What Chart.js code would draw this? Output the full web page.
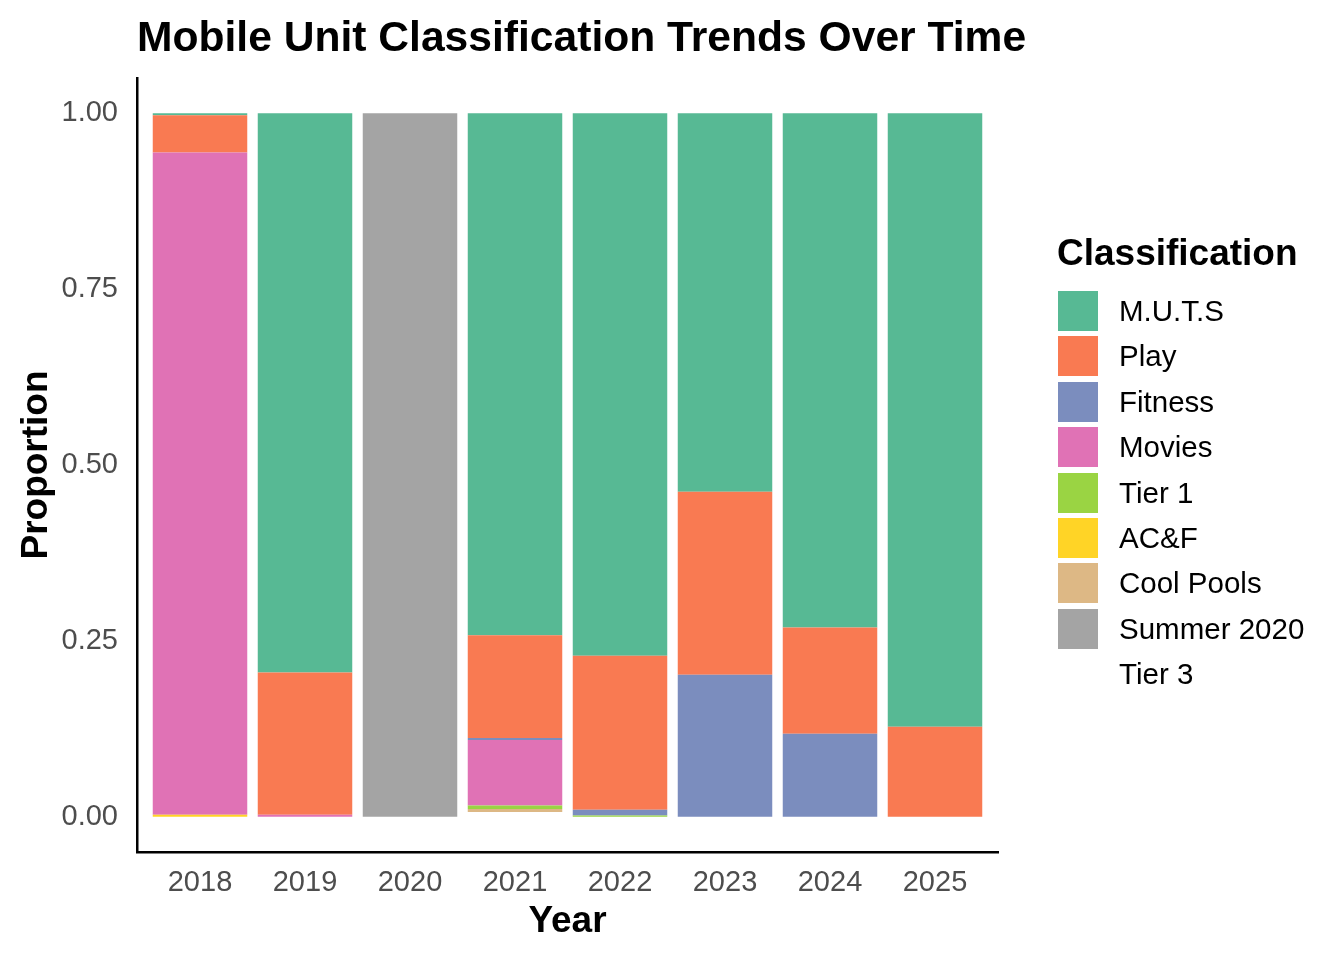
<!DOCTYPE html>
<html>
<head>
<meta charset="utf-8">
<script src="https://cdn.jsdelivr.net/npm/chart.js@4"></script>
<style>
	body { margin: 0; background: #fff; }
	#wrap { position: relative; width: 1344px; height: 960px; font-family: "Liberation Sans", Arial, sans-serif; }
	#title { position: absolute; left: 137px; top: 14.5px; font-weight: bold; font-size: 42.6px; line-height: 1; color: #000; white-space: nowrap; }
	#legend { position: absolute; left: 1057px; top: 231px; }
	#legend .ttl { font-weight: bold; font-size: 37px; color: #000; margin-bottom: 16px; line-height: 44px; }
	#legend .row { display: flex; align-items: center; height: 40px; margin-bottom: 5.4px; }
	#legend .sw { width: 40px; height: 40px; margin-left: 1px; margin-right: 21px; }
	#legend .lbl { font-size: 29.5px; color: #000; }
</style>
</head>
<body>
<div id="wrap">
	<canvas id="chart" width="1344" height="960"></canvas>
	<div id="title">Mobile Unit Classification Trends Over Time</div>
	<div id="legend"></div>
</div>
<script>
var years = ['2018', '2019', '2020', '2021', '2022', '2023', '2024', '2025']
var yTicks = [0, 0.25, 0.5, 0.75, 1]

// classification shares per year (2018..2025)
var muts = [0.003, 0.795, 0, 0.742, 0.771, 0.538, 0.731, 0.872]
var play = [0.053, 0.202, 0, 0.146, 0.219, 0.260, 0.151, 0.128]
var fitness = [0, 0, 0, 0.003, 0.008, 0.202, 0.118, 0]
var movies = [0.941, 0.003, 0, 0.093, 0, 0, 0, 0]
var tier1 = [0, 0, 0, 0.005, 0.002, 0, 0, 0]
var acf = [0.003, 0, 0, 0, 0, 0, 0, 0]
var coolPools = [0, 0, 0, 0.004, 0, 0, 0, 0]
var summer2020 = [0, 0, 1, 0, 0, 0, 0, 0]
var tier3 = [0, 0, 0, 0.007, 0, 0, 0, 0]

var classes = ['M.U.T.S', 'Play', 'Fitness', 'Movies', 'Tier 1', 'AC&F', 'Cool Pools', 'Summer 2020', 'Tier 3']
var series = [muts, play, fitness, movies, tier1, acf, coolPools, summer2020, tier3]
var colors = ['#57b994', '#f97a52', '#7b8dbe', '#e072b5', '#9ad443', '#ffd426', '#ddb885', '#a4a4a4', '#ffffff']

function toPoints(vals) {
	return vals.map(function (v, i) { return { x: i + 1, y: v } })
}

// bottom of the stack first, so M.U.T.S ends up on top
var datasets = []
for (var i = classes.length - 1; i >= 0; i--) {
	datasets.push({
		label: classes[i],
		data: toPoints(series[i]),
		backgroundColor: colors[i],
		borderWidth: 0,
		categoryPercentage: 1,
		barPercentage: 0.9
	})
}

Chart.defaults.font.family = '"Liberation Sans", Arial, sans-serif'

var ctx = document.getElementById('chart').getContext('2d')
var myChart = new Chart(ctx, {
	type: 'bar',
	data: { datasets: datasets },
	options: {
		responsive: false,
		animation: false,
		devicePixelRatio: 1,
		layout: { padding: { left: 11, right: 346, top: 78, bottom: 14 } },
		plugins: {
			legend: { display: false },
			tooltip: { enabled: false },
			title: { display: false }
		},
		scales: {
			x: {
				type: 'linear',
				stacked: true,
				min: 0.4,
				max: 8.6,
				offset: false,
				afterBuildTicks: function (axis) {
					axis.ticks = years.map(function (y, i) { return { value: i + 1 } })
				},
				afterFit: function (axis) { axis.height = 94 },
				ticks: {
					color: '#4d4d4d',
					font: { size: 29 },
					padding: 14,
					autoSkip: false,
					maxRotation: 0,
					callback: function (v) { return years[v - 1] }
				},
				grid: { display: false, drawTicks: false },
				border: { display: true, color: '#000', width: 2.5 },
				title: {
					display: true,
					text: 'Year',
					color: '#000',
					font: { size: 37, weight: 'bold' },
					padding: { top: 0, bottom: 2 }
				}
			},
			y: {
				stacked: true,
				min: -0.05,
				max: 1.05,
				afterBuildTicks: function (axis) {
					axis.ticks = yTicks.map(function (v) { return { value: v } })
				},
				afterFit: function (axis) { axis.width = 126 },
				ticks: {
					color: '#4d4d4d',
					font: { size: 29 },
					padding: 19,
					callback: function (v) { return v.toFixed(2) }
				},
				grid: { display: false, drawTicks: false },
				border: { display: true, color: '#000', width: 2.5 },
				title: {
					display: true,
					text: 'Proportion',
					color: '#000',
					font: { size: 37, weight: 'bold' },
					padding: { top: 4, bottom: 4 }
				}
			}
		}
	}
})

// legend in ggplot order, built from the chart's datasets
var legend = document.getElementById('legend')
var html = '<div class="ttl">Classification</div>'
myChart.data.datasets.slice().reverse().forEach(function (ds) {
	html += '<div class="row"><div class="sw" style="background:' + ds.backgroundColor + '"></div>' +
		'<div class="lbl">' + ds.label.replace('&', '&amp;') + '</div></div>'
})
legend.innerHTML = html
</script>
</body>
</html>
